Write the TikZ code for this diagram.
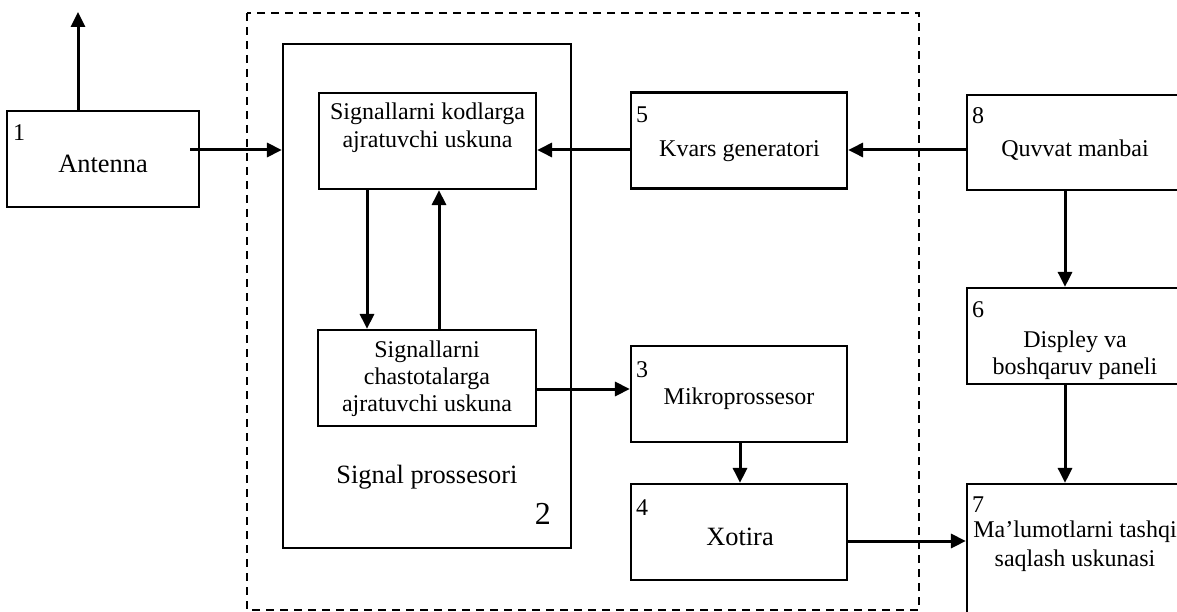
\documentclass[tikz,border=0pt]{standalone}
\usepackage{fontspec}
\setmainfont{Liberation Serif}
\usetikzlibrary{arrows.meta}
\tikzset{
  box/.style={draw, line width=2.2pt, inner sep=0pt, minimum width=216pt, minimum height=96pt},
  dashbox/.style={draw, line width=1.8pt, dash pattern=on 8pt off 6pt},
  arr/.style={line width=3pt, -{Triangle[length=15pt,width=14pt]}},
  txt/.style={inner sep=0pt, anchor=base, font=\fontsize{24}{28}\selectfont},
  big/.style={inner sep=0pt, anchor=base, font=\fontsize{26.4}{30}\selectfont},
  num/.style={inner sep=0pt, anchor=base west, font=\fontsize{24}{28}\selectfont}
}
\begin{document}
\begin{tikzpicture}[x=1pt,y=-1pt]
\useasboundingbox (0,0) rectangle (1177,612);
\clip (0,0) rectangle (1177,612);
% dashed enclosure
\draw[dashbox] (247,13) rectangle (919,610);
% boxes
\node[box, minimum width=192pt] (a) at (103,159) {};
\node[box, minimum width=288pt, minimum height=504pt] (sp) at (427,296) {};
\node[box, minimum width=217pt] (u) at (427.5,141) {};
\node[box, minimum width=218pt] (l) at (427,378) {};
\node[box] (k) at (739,140.5) {};
\node[box] (m) at (739,394) {};
\node[box] (x) at (739,532) {};
\node[box, minimum height=95pt] (q) at (1075,142.5) {};
\node[box] (d) at (1075,336) {};
\node[box, minimum height=156pt] (s) at (1075,562) {};
% texts
\node[num] (n1) at (13,141) {1};
\node[big] (ta) at (103,173) {Antenna};
\node[txt] (tu1) at (427.5,120) {Signallarni kodlarga};
\node[txt] (tu2) at (427.5,148) {ajratuvchi uskuna};
\node[txt] (tl1) at (427,357) {Signallarni};
\node[txt] (tl2) at (427,384) {chastotalarga};
\node[txt] (tl3) at (427,411) {ajratuvchi uskuna};
\node[big] (tsp) at (427,483) {Signal prossesori};
\node[inner sep=0pt, anchor=base east, font=\fontsize{32}{36}\selectfont] (n2) at (551,524) {2};
\node[num] (n5) at (636,123) {5};
\node[txt] (tk) at (739.5,157) {Kvars generatori};
\node[num] (n3) at (636,377) {3};
\node[txt] (tm) at (739,404) {Mikroprossesor};
\node[num] (n4) at (636,515) {4};
\node[big] (tx) at (740,545) {Xotira};
\node[num] (n8) at (972,124) {8};
\node[txt] (tq) at (1075,157) {Quvvat manbai};
\node[num] (n6) at (972,317) {6};
\node[txt] (td1) at (1075,347) {Displey va};
\node[txt] (td2) at (1075,374) {boshqaruv paneli};
\node[num] (n7) at (972,512) {7};
\node[txt] (ts1) at (1075,537) {Ma’lumotlarni tashqi};
\node[txt] (ts2) at (1075,566) {saqlash uskunasi};
% helper coordinates
\coordinate (atop) at (78,12);
\coordinate (ain) at (190,150);
\coordinate (r1) at (0,150);
\coordinate (c1) at (367,0);
\coordinate (c2) at (439,0);
\coordinate (r2) at (0,389);
\coordinate (c3) at (740,0);
\coordinate (r3) at (0,541);
\coordinate (c4) at (1065,0);
% connectors
\draw[arr] (a.north -| atop) -- (atop);
\draw[arr] (ain) -- (ain -| sp.west);
\draw[arr] (k.west |- r1) -- (u.east |- r1);
\draw[arr] (q.west |- r1) -- (k.east |- r1);
\draw[arr] (u.south -| c1) -- (l.north -| c1);
\draw[arr] (l.north -| c2) -- (u.south -| c2);
\draw[arr] (l.east |- r2) -- (m.west |- r2);
\draw[arr] (m.south -| c3) -- (x.north -| c3);
\draw[arr] (x.east |- r3) -- (s.west |- r3);
\draw[arr] (q.south -| c4) -- (d.north -| c4);
\draw[arr] (d.south -| c4) -- (s.north -| c4);
\end{tikzpicture}
\end{document}
